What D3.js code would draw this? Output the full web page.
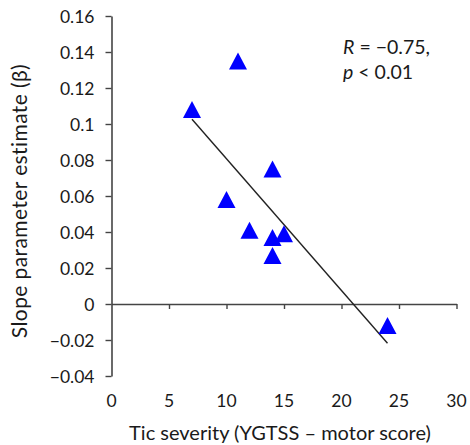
<!DOCTYPE html>
<html>
<head>
<meta charset="utf-8">
<script src="https://cdn.jsdelivr.net/npm/d3@7"></script>
<style>
  body { margin: 0; background: #fff; }
  text { font-family: Lato, "Open Sans", sans-serif; fill: #1a1a1a; }
</style>
</head>
<body>
<svg id="chart"></svg>
<script>
// data
var ticSeverity = [11, 7, 14, 10, 12, 14, 15, 14, 24];
var slopeBeta   = [0.135, 0.108, 0.075, 0.058, 0.041, 0.037, 0.039, 0.027, -0.012];
var trendX = [7, 24];
var trendY = [0.1026, -0.0218];
var xTicks = [0, 5, 10, 15, 20, 25, 30];
var yTicks = [-0.04, -0.02, 0, 0.02, 0.04, 0.06, 0.08, 0.1, 0.12, 0.14, 0.16];

var W = 470, H = 445;
var svg = d3.select("#chart").attr("width", W).attr("height", H);

var x = d3.scaleLinear().domain([0, 30]).range([111.5, 456.5]);
var y = d3.scaleLinear().domain([-0.04, 0.16]).range([376, 16]);

var axisCol = "#444";

// y axis
var yAx = svg.append("g")
    .attr("transform", "translate(" + x(0) + ",0)")
    .call(d3.axisLeft(y).tickValues(yTicks).tickSize(6).tickSizeOuter(0)
	  .tickFormat(function(d){ return d === 0 ? "0" : String(+d.toFixed(2)).replace("-", "\u2212"); }));
yAx.select(".domain").attr("stroke", axisCol).attr("stroke-width", 1.6);
yAx.selectAll(".tick line").attr("stroke", axisCol).attr("stroke-width", 1.4);
yAx.selectAll(".tick text").attr("x", -17).attr("dy", "0.36em")
    .style("font-size", "17.5px").style("font-family", "Lato, sans-serif").attr("fill", "#1a1a1a");

// x axis sits on y = 0
var xAx = svg.append("g")
    .attr("transform", "translate(0," + y(0) + ")")
    .call(d3.axisBottom(x).tickValues(xTicks.slice(1)).tickSize(5).tickSizeOuter(0).tickFormat(""));
xAx.select(".domain").attr("stroke", axisCol).attr("stroke-width", 1.6);
xAx.selectAll(".tick line").attr("stroke", axisCol).attr("stroke-width", 1.4);

// x tick labels go down at the bottom of the plot
svg.append("g").selectAll("text")
    .data(xTicks)
  .enter().append("text")
    .attr("x", function(d){ return x(d); })
    .attr("y", 406.5)
    .attr("text-anchor", "middle")
    .style("font-size", "17.5px")
    .text(function(d){ return d; });

// trend line
svg.append("line")
    .attr("x1", x(trendX[0])).attr("y1", y(trendY[0]))
    .attr("x2", x(trendX[1])).attr("y2", y(trendY[1]))
    .attr("stroke", "#222").attr("stroke-width", 1.4);

// triangle markers, box centred on the point
var tw = 18, th = 17;
svg.append("g").selectAll("path")
    .data(ticSeverity)
  .enter().append("path")
    .attr("d", function(d, i){
	var cx = x(d), cy = y(slopeBeta[i]);
	return "M" + cx + "," + (cy - th/2) +
	    "L" + (cx + tw/2) + "," + (cy + th/2) +
	    "L" + (cx - tw/2) + "," + (cy + th/2) + "Z";
    })
    .attr("fill", "#0000ff");

// axis titles
svg.append("text")
    .attr("x", 280).attr("y", 440)
    .attr("text-anchor", "middle")
    .style("font-size", "20px")
    .text("Tic severity (YGTSS \u2013 motor score)");

svg.append("text")
    .attr("transform", "translate(27,201) rotate(-90)")
    .attr("text-anchor", "middle")
    .style("font-size", "21px")
    .style("letter-spacing", "0.4px")
    .text("Slope parameter estimate (\u03b2)");

// stats note
var note = svg.append("g").style("font-size", "19.5px");
var t1 = note.append("text").attr("x", 343).attr("y", 54);
t1.append("tspan").style("font-style", "italic").text("R");
t1.append("tspan").text(" = \u22120.75,");
var t2 = note.append("text").attr("x", 343).attr("y", 78.5);
t2.append("tspan").style("font-style", "italic").text("p");
t2.append("tspan").text(" < 0.01");
</script>
</body>
</html>
